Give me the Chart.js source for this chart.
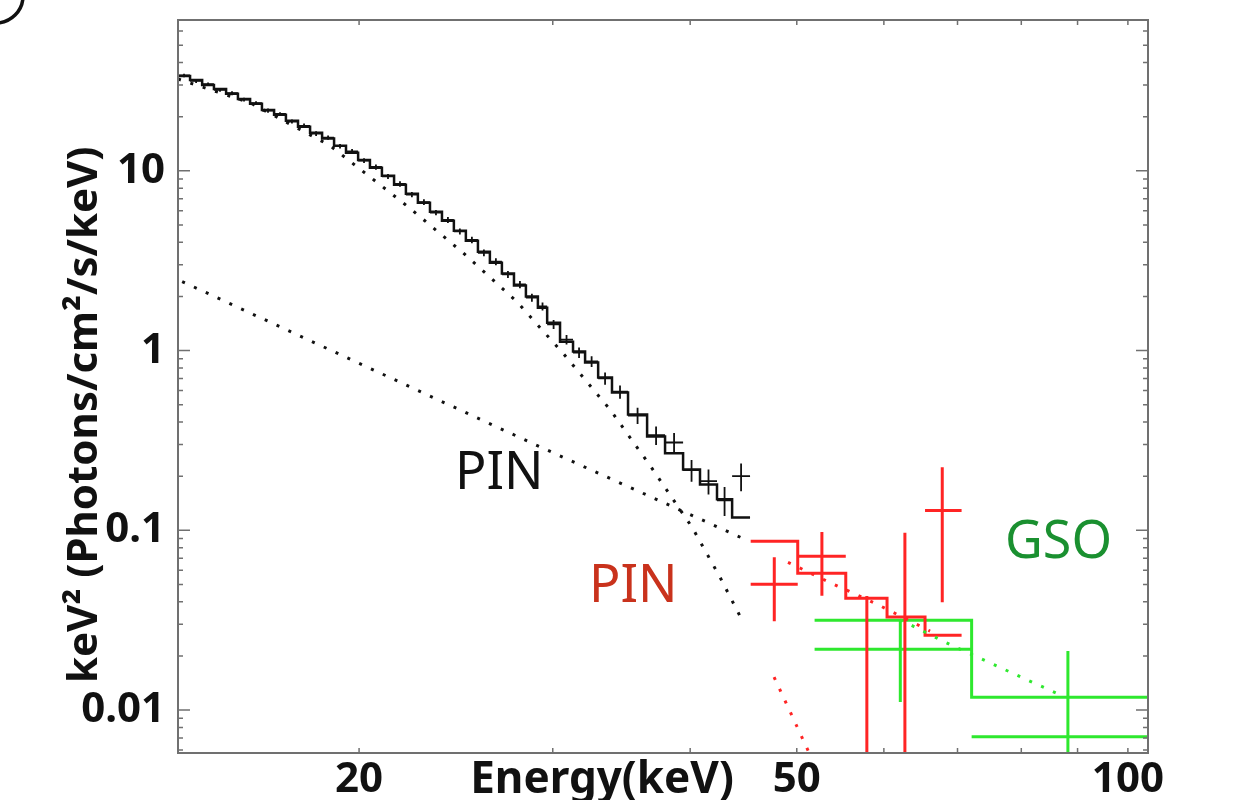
<!DOCTYPE html>
<html>
<head>
<meta charset="utf-8">
<script src="https://cdn.jsdelivr.net/npm/chart.js@4"></script>
<style>
  html, body { margin: 0; padding: 0; background: #fff; }
  #wrap { width: 1239px; height: 800px; }
</style>
</head>
<body>
<div id="wrap"><canvas id="spec" width="1239" height="800"></canvas></div>
<script>
// PIN (black) - bin edges in keV, folded model and data
const pinEdges = [13.69, 14.04, 14.40, 14.76, 15.14, 15.52, 15.92, 16.32, 16.74, 17.16,
  17.60, 18.05, 18.51, 18.98, 19.46, 19.96, 20.46, 20.98, 21.52, 22.06,
  22.62, 23.20, 23.79, 24.39, 25.01, 25.65, 26.30, 26.97, 27.66, 28.36,
  29.08, 29.65, 30.46, 31.30, 32.10, 32.99, 33.96, 35.12, 36.55, 37.95,
  39.41, 40.83, 42.31, 43.67, 45.34];
const pinModel = [33.7, 32.0, 30.0, 28.5, 26.8, 25.1, 23.6, 21.8, 20.5, 19.0,
  17.6, 16.3, 15.1, 13.8, 12.6, 11.5, 10.4, 9.38, 8.36, 7.45,
  6.64, 5.92, 5.27, 4.64, 4.08, 3.55, 3.08, 2.68, 2.30, 2.00,
  1.73, 1.43, 1.12, 0.987, 0.858, 0.708, 0.584, 0.441, 0.333, 0.268,
  0.218, 0.180, 0.149, 0.118];
const pinData = [33.9, 31.6, 30.3, 28.2, 27.0, 24.9, 23.8, 21.6, 20.7, 18.8,
  17.8, 16.1, 15.3, 13.7, 12.8, 11.4, 10.5, 9.30, 8.45, 7.38,
  6.70, 5.85, 5.33, 4.60, 4.12, 3.50, 3.12, 2.65, 2.33, 1.97,
  1.76, 1.40, 1.15, 0.975, 0.870, 0.700, 0.590, 0.435, 0.338, 0.308,
  0.216, 0.188, 0.147, 0.200];
const pinErr = [0.8, 0.8, 0.7, 0.7, 0.7, 0.6, 0.6, 0.6, 0.5, 0.5,
  0.5, 0.5, 0.4, 0.4, 0.4, 0.35, 0.35, 0.3, 0.3, 0.25,
  0.25, 0.2, 0.2, 0.18, 0.17, 0.15, 0.14, 0.12, 0.11, 0.10,
  0.09, 0.08, 0.07, 0.065, 0.06, 0.055, 0.05, 0.045, 0.04, 0.04,
  0.03, 0.03, 0.027, 0.035];

// PIN (red) - high energy part
const redEdges = [45.4, 50.1, 55.4, 60.4, 65.4, 70.6];
const redModel = [0.0869, 0.0577, 0.0419, 0.0329, 0.0261];
const redE = [47.7, 52.7, 57.9, 62.7, 67.8];
const redData = [0.0501, 0.0717, 0.003, 0.003, 0.129];
const redLo = [0.0312, 0.0432, 0.0001, 0.0001, 0.0398];
const redHi = [0.0708, 0.098, 0.0431, 0.0970, 0.224];

// GSO (green)
const gsoEdges = [51.9, 72.1, 110];
const gsoModel = [0.0316, 0.0118];
const gsoE = [62.1, 88.2];
const gsoData = [0.0218, 0.0071];
const gsoLo = [0.0111, 0.001];
const gsoHi = [0.0320, 0.0213];

// model components (dotted)
const thermE = [13.69, 15.92, 18.82, 22.16, 24.86, 27.83, 30.72, 33.82, 36.93, 40.16, 42.58, 44.40];
const thermV = [32.4, 23.9, 13.8, 6.31, 3.50, 1.87, 0.950, 0.470, 0.221, 0.104, 0.0548, 0.0333];
const plE = [13.81, 28.9, 44.86];
const plV = [2.42, 0.30, 0.0891];
const redTotE = [49.09, 53.28, 59.15, 66.09];
const redTotV = [0.0664, 0.0521, 0.0388, 0.0275];
const redCompE = [47.68, 51.62];
const redCompV = [0.01526, 0.00534];
const gsoTotE = [62.06, 63.78, 69.35, 75.40, 81.82, 86.40];
const gsoTotV = [0.0318, 0.0293, 0.0227, 0.0180, 0.0143, 0.0123];

// axis ticks
const xTicks = [20, 50, 100];
const xMinor = [30, 40, 60, 70, 80, 90];
const yTicks = [0.01, 0.1, 1, 10];

const BLACK = '#111111', RED = '#ff2424', GREEN = '#2ee82e';
const TICK_FONT = { family: 'Noto Sans', size: 42, weight: 'bold' };

function steps(edges, vals) {
  const pts = vals.map((v, i) => ({ x: edges[i], y: v }));
  pts.push({ x: edges[edges.length - 1], y: vals[vals.length - 1] });
  return pts;
}

function curve(xs, ys) {
  return xs.map((x, i) => ({ x: x, y: ys[i] }));
}

// horizontal bar + vertical bar per point, split by null gaps
function crosses(xc, xlo, xhi, v, lo, hi) {
  const pts = [];
  v.forEach((val, i) => {
    pts.push({ x: xlo[i], y: val }, { x: xhi[i], y: val }, { x: xhi[i], y: null });
    pts.push({ x: xc[i], y: lo[i] }, { x: xc[i], y: hi[i] }, { x: xc[i], y: null });
  });
  return pts;
}

const pinLoEdge = pinEdges.slice(0, -1);
const pinHiEdge = pinEdges.slice(1);
const pinMid = pinLoEdge.map((e, i) => Math.sqrt(e * pinHiEdge[i]));

function ds(data, color, width, extra) {
  return Object.assign({
    data: data, showLine: true, borderColor: color, borderWidth: width,
    pointRadius: 0, spanGaps: false, fill: false
  }, extra || {});
}
const dots = { borderDash: [3, 10], borderCapStyle: 'butt' };
// horizontal first, then the vertical jump at the next edge
const hist = { stepped: 'before' };

// frame with inward ticks on all four sides
const framePlugin = {
  id: 'frame',
  afterDatasetsDraw(chart) {
    const { ctx, chartArea: a, scales } = chart;
    ctx.save();
    ctx.strokeStyle = '#707070';
    ctx.lineWidth = 2;
    ctx.strokeRect(a.left, a.top, a.right - a.left, a.bottom - a.top);
    ctx.lineWidth = 1.5;
    ctx.beginPath();
    xTicks.concat(xMinor).forEach(v => {
      const px = scales.x.getPixelForValue(v);
      ctx.moveTo(px, a.bottom); ctx.lineTo(px, a.bottom - 5);
      ctx.moveTo(px, a.top); ctx.lineTo(px, a.top + 5);
    });
    for (let d = -3; d <= 1; d++) {
      for (let m = 1; m <= 9; m++) {
        const v = m * Math.pow(10, d);
        if (v < scales.y.min || v > scales.y.max) continue;
        const py = scales.y.getPixelForValue(v);
        const len = m === 1 ? 12 : 5;
        ctx.moveTo(a.left, py); ctx.lineTo(a.left + len, py);
        ctx.moveTo(a.right, py); ctx.lineTo(a.right - len, py);
      }
    }
    ctx.stroke();
    ctx.restore();
  }
};

// titles and labels
const textPlugin = {
  id: 'texts',
  afterDraw(chart) {
    const ctx = chart.ctx;
    ctx.save();
    ctx.fillStyle = BLACK;
    ctx.font = 'bold 44px "Noto Sans"';
    ctx.textAlign = 'center';
    ctx.textBaseline = 'alphabetic';
    ctx.fillText('Energy(keV)', 602, 793);

    ctx.save();
    ctx.translate(97, 683);
    ctx.rotate(-Math.PI / 2);
    ctx.font = 'bold 42px "Noto Sans"';
    ctx.textAlign = 'left';
    ctx.fillText('keV² (Photons/cm²/s/keV)', 0, 0);
    ctx.restore();

    ctx.font = '52px "Noto Sans"';
    ctx.textAlign = 'left';
    ctx.fillStyle = BLACK;
    ctx.fillText('PIN', 455, 489);
    ctx.fillStyle = '#c9321c';
    ctx.fillText('PIN', 589, 602);
    ctx.fillStyle = '#1a9030';
    ctx.fillText('GSO', 1005, 558);

    ctx.strokeStyle = BLACK;
    ctx.lineWidth = 3.5;
    ctx.beginPath();
    ctx.arc(-4, -4, 27, 0, Math.PI / 2);
    ctx.stroke();
    ctx.restore();
  }
};

new Chart(document.getElementById('spec'), {
  type: 'scatter',
  data: {
    datasets: [
      ds(curve(thermE, thermV), BLACK, 3, dots),
      ds(curve(plE, plV), BLACK, 3, dots),
      ds(curve(redTotE, redTotV), RED, 3, dots),
      ds(curve(redCompE, redCompV), RED, 3, dots),
      ds(curve(gsoTotE, gsoTotV), GREEN, 3, dots),
      ds(steps(pinEdges, pinModel), BLACK, 2.5, hist),
      ds(crosses(pinMid, pinLoEdge, pinHiEdge, pinData,
        pinData.map((v, i) => v - pinErr[i]), pinData.map((v, i) => v + pinErr[i])), BLACK, 1.8),
      ds(steps(redEdges, redModel), RED, 3, hist),
      ds(crosses(redE, redEdges.slice(0, -1), redEdges.slice(1), redData, redLo, redHi), RED, 3),
      ds(steps(gsoEdges, gsoModel), GREEN, 3, hist),
      ds(crosses(gsoE, gsoEdges.slice(0, -1), gsoEdges.slice(1), gsoData, gsoLo, gsoHi), GREEN, 3)
    ]
  },
  options: {
    responsive: false,
    animation: false,
    layout: { padding: { top: 20, right: 91, left: 0, bottom: 0 } },
    plugins: { legend: { display: false }, tooltip: { enabled: false } },
    scales: {
      x: {
        type: 'logarithmic',
        min: 13.69,
        max: 104.3,
        afterBuildTicks: s => { s.ticks = xTicks.map(v => ({ value: v })); },
        afterFit: s => { s.height = 47; s.paddingLeft = 0; s.paddingRight = 0; },
        ticks: {
          color: BLACK, font: TICK_FONT, padding: 2, autoSkip: false, maxRotation: 0,
          callback: v => String(v)
        },
        grid: { display: false, drawTicks: false },
        border: { display: false }
      },
      y: {
        type: 'logarithmic',
        min: 0.00577,
        max: 69,
        afterBuildTicks: s => { s.ticks = yTicks.map(v => ({ value: v })); },
        afterFit: s => { s.width = 178; s.paddingTop = 0; s.paddingBottom = 0; },
        ticks: {
          color: BLACK, font: TICK_FONT, padding: 13, autoSkip: false,
          callback: v => String(v)
        },
        grid: { display: false, drawTicks: false },
        border: { display: false }
      }
    }
  },
  plugins: [framePlugin, textPlugin]
});
</script>
</body>
</html>
